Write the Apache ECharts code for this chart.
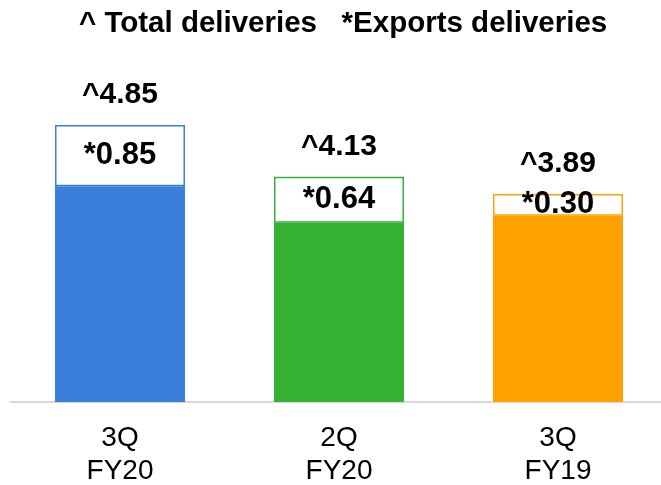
<!DOCTYPE html>
<html>
<head>
  <meta charset="utf-8">
  <title>deliveries</title>
  <script src="https://cdn.jsdelivr.net/npm/echarts@6/dist/echarts.min.js"></script>
  <style>
    html, body { margin: 0; padding: 0; background: #fff; }
    #echart { width: 661px; height: 485px; }
  </style>
</head>
<body>
<div id="echart"></div>
<script>
  // data
  var categories = ['3Q\nFY20', '2Q\nFY20', '3Q\nFY19'];
  var totals = [4.85, 4.13, 3.89];
  var exportsVal = [0.85, 0.64, 0.30];
  var domestic = [4.00, 3.49, 3.59];
  var colors = ['#3c7fdb', '#35b234', '#ffa200'];

  var font = 'Liberation Sans, Arial, sans-serif';

  var myChart = echarts.init(document.getElementById('echart'));
  var option = {
    animation: false,
    title: {
      text: '^ Total deliveries   *Exports deliveries',
      left: 74,
      top: 4,
      textStyle: {
        fontFamily: font,
        fontSize: 29.5,
        fontWeight: 'bold',
        color: '#000'
      }
    },
    grid: {
      left: 10.5,
      width: 657,
      top: 42.3,
      bottom: 83,
      outerBoundsMode: 'none'
    },
    xAxis: {
      type: 'category',
      data: categories,
      axisLine: { lineStyle: { color: '#d9d9d9', width: 2 } },
      axisTick: { show: false },
      axisLabel: {
        fontFamily: font,
        fontSize: 28,
        lineHeight: 33,
        color: '#000',
        margin: 20
      }
    },
    yAxis: {
      type: 'value',
      min: 1,
      max: 6,
      show: false,
      splitLine: { show: false }
    },
    series: [{
      name: 'domestic',
      type: 'bar',
      stack: 'd',
      barWidth: 130,
      barGap: '-100%',
      silent: true,
      data: domestic.map(function (v, i) {
        return { value: v, itemStyle: { color: colors[i] } };
      })
    }, {
      name: 'exports',
      type: 'bar',
      stack: 'd',
      barWidth: 130,
      barGap: '-100%',
      silent: true,
      data: exportsVal.map(function (v, i) {
        return {
          value: v,
          itemStyle: { color: '#fff', borderColor: colors[i], borderWidth: 1.5 }
        };
      }),
      label: {
        show: true,
        position: 'inside',
        formatter: function (p) { return '*' + p.value.toFixed(2); },
        fontFamily: font,
        fontSize: 31,
        fontWeight: 'bold',
        color: '#000'
      }
    }, {
      // invisible bar for the total label
      name: 'total',
      type: 'bar',
      barWidth: 130,
      barGap: '-100%',
      silent: true,
      z: 1,
      itemStyle: { color: 'rgba(0,0,0,0)' },
      data: totals,
      label: {
        show: true,
        position: 'top',
        distance: 15,
        formatter: function (p) { return '^' + p.value.toFixed(2); },
        fontFamily: font,
        fontSize: 30,
        fontWeight: 'bold',
        color: '#000'
      }
    }]
  };
  myChart.setOption(option);
</script>
</body>
</html>
